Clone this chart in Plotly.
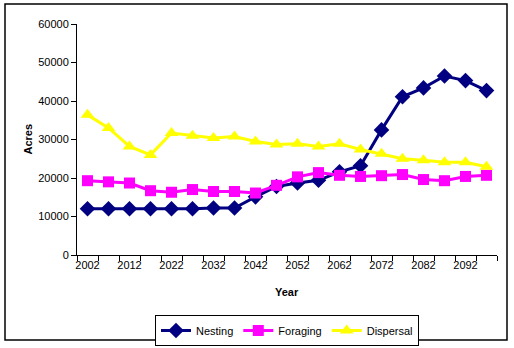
import plotly.graph_objects as go

years = list(range(2002, 2098, 5))
nesting = [12000, 12000, 12000, 12000, 12000, 12000, 12200, 12200, 15100, 17800,
           18700, 19400, 21600, 23200, 32500, 41100, 43400, 46500, 45300, 42700]
foraging = [19300, 19000, 18700, 16700, 16300, 17000, 16500, 16500, 16100, 18100,
            20300, 21400, 20700, 20400, 20600, 20900, 19600, 19300, 20400, 20700]
dispersal = [36400, 33000, 28200, 26000, 31700, 31000, 30400, 30800, 29500, 28700,
             28900, 28200, 28900, 27400, 26300, 25000, 24600, 24100, 24100, 22900]
tick_years = list(range(2002, 2093, 10))

font = "Arial, Liberation Sans, sans-serif"

fig = go.Figure()
fig.add_trace(go.Scatter(x=years, y=nesting, name="Nesting", mode="lines+markers",
                         line=dict(color="#000080", width=3),
                         marker=dict(symbol="diamond", size=12, color="#000080")))
fig.add_trace(go.Scatter(x=years, y=foraging, name="Foraging", mode="lines+markers",
                         line=dict(color="#FF00FF", width=3),
                         marker=dict(symbol="square", size=11, color="#FF00FF")))
fig.add_trace(go.Scatter(x=years, y=dispersal, name="Dispersal", mode="lines+markers",
                         line=dict(color="#FFFF00", width=3),
                         marker=dict(symbol="triangle-up", size=12, color="#FFFF00")))

W, H = 514, 348
L, R, T, B = 77, 497, 24, 255

fig.update_layout(
    width=W, height=H,
    margin=dict(l=L, r=W - R, t=T, b=H - B, autoexpand=False),
    paper_bgcolor="white", plot_bgcolor="white",
    font=dict(family=font, size=11, color="black"),
    showlegend=True,
    legend=dict(orientation="h", x=0.5, xanchor="center",
                y=(B - 315) / (B - T), yanchor="top",
                bordercolor="black", borderwidth=1, bgcolor="white",
                font=dict(size=11), tracegroupgap=0, itemwidth=30),
    xaxis=dict(range=[1999.5, 2099.5], tickmode="array", tickvals=tick_years,
               ticktext=[str(y) for y in tick_years], ticks="", ticklen=0,
               showline=True, linecolor="black", linewidth=1, showgrid=False,
               zeroline=False, tickfont=dict(size=11),
               minor=dict(tick0=1999.5, dtick=5, ticks="outside", ticklen=5,
                          tickcolor="black", showgrid=False)),
    yaxis=dict(range=[0, 60000], dtick=10000, ticks="outside", ticklen=5,
               tickcolor="black", showline=True, linecolor="black", linewidth=1,
               showgrid=False, zeroline=False, tickformat="d",
               tickfont=dict(size=11)),
    annotations=[
        dict(text="<b>Acres</b>", xref="paper", yref="paper",
             x=(27 - L) / (R - L), y=0.5, textangle=-90, showarrow=False,
             font=dict(size=11), xanchor="center", yanchor="middle"),
        dict(text="<b>Year</b>", xref="paper", yref="paper",
             x=0.5, y=(B - 292) / (B - T), showarrow=False,
             font=dict(size=11), xanchor="center", yanchor="middle"),
    ],
    shapes=[
        dict(type="rect", xref="paper", yref="paper",
             x0=(5 - L) / (R - L), x1=(507 - L) / (R - L),
             y0=(B - 340) / (B - T), y1=(B - 4) / (B - T),
             line=dict(color="black", width=1.5), fillcolor="rgba(0,0,0,0)"),
    ],
)

fig.write_html("out.html")
